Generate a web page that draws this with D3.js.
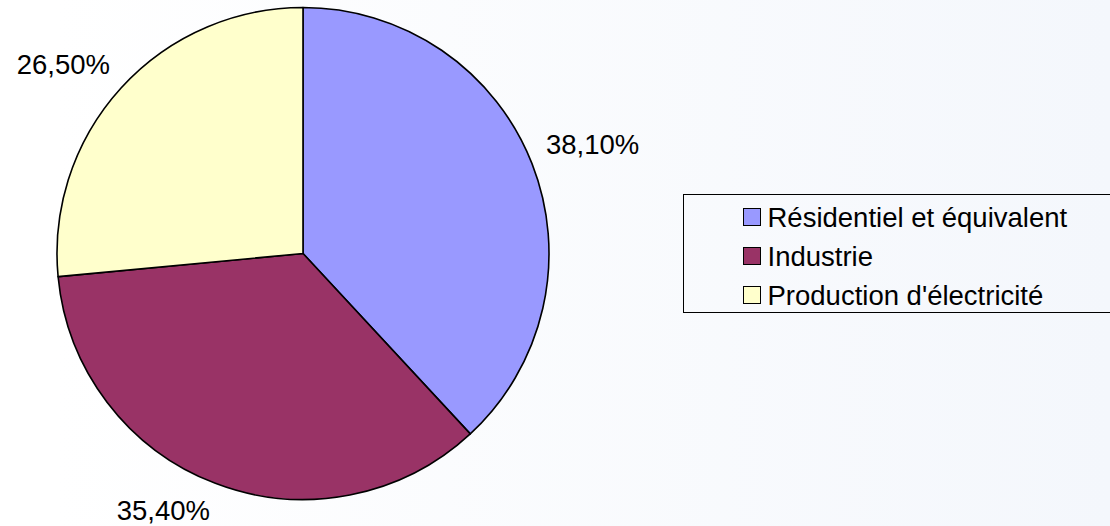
<!DOCTYPE html>
<html>
<head>
<meta charset="utf-8">
<script src="https://cdn.jsdelivr.net/npm/d3@7"></script>
<style>
  html, body { margin: 0; padding: 0; }
  svg { display: block; font-family: "Liberation Sans", Arial, sans-serif; }
</style>
</head>
<body>
<div id="chart"></div>
<script>
// categories and shares (%)
const categories = ["Résidentiel et équivalent", "Industrie", "Production d'électricité"]
const shares = [38.1, 35.4, 26.5]
const labels = ["38,10%", "35,40%", "26,50%"]
const colors = ["#9999ff", "#993366", "#ffffcc"]

const width = 1110,
      height = 526,
      cx = 303,
      cy = 253.5,
      radius = 246,
      labelRadius = 261,
      fontSize = 27.5

const data = categories.map((c, i) => ({ label: c, value: shares[i], text: labels[i], color: colors[i] }))

const svg = d3.select("#chart").append("svg")
  .attr("width", width)
  .attr("height", height)

// soft left-to-right background wash
const grad = svg.append("defs").append("linearGradient")
  .attr("id", "bg")
  .attr("x1", "0").attr("x2", "1").attr("y1", "0").attr("y2", "0")
grad.append("stop").attr("offset", "0.05").attr("stop-color", "#ffffff")
grad.append("stop").attr("offset", "1").attr("stop-color", "#f4f7fc")

svg.append("rect")
  .attr("width", width)
  .attr("height", height)
  .attr("fill", "url(#bg)")

const pie = d3.pie()
  .sort(null)
  .value(d => d.value)

const arc = d3.arc()
  .innerRadius(0)
  .outerRadius(radius)

const labelArc = d3.arc()
  .innerRadius(labelRadius)
  .outerRadius(labelRadius)

const g = svg.append("g")
  .attr("transform", "translate(" + cx + "," + cy + ")")

const arcs = pie(data)

g.selectAll("path.slice")
  .data(arcs)
  .join("path")
    .attr("class", "slice")
    .attr("d", arc)
    .attr("fill", d => d.data.color)
    .attr("stroke", "#000")
    .attr("stroke-width", 1.6)
    .attr("stroke-linejoin", "round")

// labels: the corner nearest the pie sits on the label circle
g.selectAll("text.pct")
  .data(arcs)
  .join("text")
    .attr("class", "pct")
    .attr("font-size", fontSize)
    .attr("fill", "#000")
    .each(function(d) {
      const [x, y] = labelArc.centroid(d)
      const el = d3.select(this)
      el.attr("text-anchor", x >= 0 ? "start" : "end")
        .attr("x", x)
        .attr("y", y < 0 ? y - 4 : y + 23)
        .text(d.data.text)
    })

// legend
const legend = svg.append("g")
  .attr("transform", "translate(683.5,194.5)")

legend.append("rect")
  .attr("width", 440)
  .attr("height", 118)
  .attr("fill", "none")
  .attr("stroke", "#000")
  .attr("stroke-width", 1)

const rowY = d3.scalePoint()
  .domain(categories)
  .range([22.5, 100.5])

const item = legend.selectAll("g.item")
  .data(data)
  .join("g")
    .attr("class", "item")
    .attr("transform", d => "translate(0," + rowY(d.label) + ")")

item.append("rect")
  .attr("x", 60)
  .attr("y", -8.5)
  .attr("width", 17)
  .attr("height", 17)
  .attr("fill", d => d.color)
  .attr("stroke", "#000")
  .attr("stroke-width", 1)

item.append("text")
  .attr("x", 84)
  .attr("y", 9.5)
  .attr("font-size", fontSize)
  .attr("fill", "#000")
  .text(d => d.label)
</script>
</body>
</html>
